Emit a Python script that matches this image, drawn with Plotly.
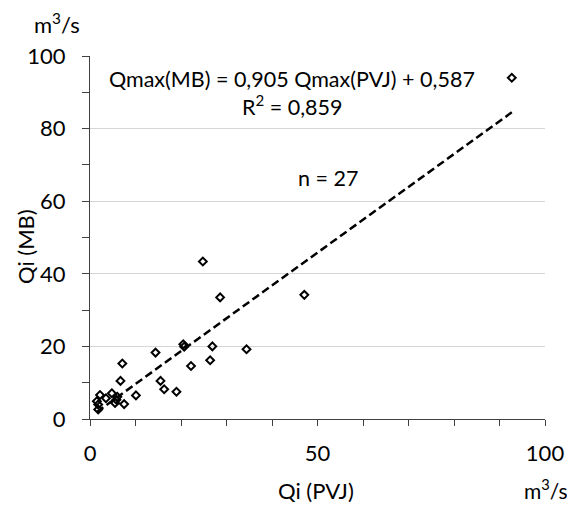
import plotly.graph_objects as go

# Data (m3/s)
qi_pvj = [92.7, 24.8, 28.6, 47.1, 20.5, 20.7, 26.9, 34.4, 22.2, 26.4, 14.4, 7.1, 6.7,
          15.5, 16.3, 19.0, 10.1, 7.5, 4.8, 6.0, 5.8, 5.5, 3.5, 2.2, 1.5, 1.8, 1.8]
qi_mb = [94.0, 43.4, 33.5, 34.2, 20.6, 19.9, 20.0, 19.2, 14.6, 16.2, 18.3, 15.3, 10.5,
         10.5, 8.2, 7.5, 6.5, 4.1, 7.1, 6.1, 5.3, 4.4, 5.7, 6.6, 4.9, 4.0, 2.6]

slope = 0.905
intercept = 0.587
r2_text = "0,859"
n_text = "27"

x_ticks = [0, 50, 100]
y_ticks = [0, 20, 40, 60, 80, 100]

FONT = "Lato"
FS = 22
FS_EQ = 21.5

x_line = [min(qi_pvj), max(qi_pvj)]
y_line = [slope * v + intercept for v in x_line]

fig = go.Figure()
fig.add_trace(go.Scatter(
    x=x_line, y=y_line, mode="lines",
    line=dict(color="black", width=2.5, dash="8px,4px"),
    hoverinfo="skip", showlegend=False))
fig.add_trace(go.Scatter(
    x=qi_pvj, y=qi_mb, mode="markers",
    marker=dict(symbol="diamond-open", size=6, color="black",
                line=dict(color="black", width=2)),
    showlegend=False))

# page body has an 8px margin, so the figure is 8px smaller than the window
fig.update_layout(
    width=567, height=498,
    margin=dict(l=82, r=30, t=48, b=87),
    paper_bgcolor="white", plot_bgcolor="white",
    font=dict(family=FONT, size=FS, color="black"),
    showlegend=False,
)
fig.update_xaxes(
    range=[0, 100], tickvals=x_ticks, ticktext=[str(v) for v in x_ticks],
    showgrid=False, zeroline=False,
    showline=True, linecolor="#404040", linewidth=1,
    ticks="outside", ticklen=6, tickcolor="#404040",
    minor=dict(dtick=10, ticks="outside", ticklen=6, tickcolor="#404040", showgrid=False),
    ticklabelstandoff=9,
    tickfont=dict(family=FONT, size=FS),
)
fig.update_yaxes(
    range=[0, 100], tickvals=y_ticks, ticktext=[str(v) for v in y_ticks],
    showgrid=True, gridcolor="#d6d6d6", gridwidth=1, zeroline=False,
    showline=True, linecolor="#404040", linewidth=1,
    ticks="outside", ticklen=7, tickcolor="#404040",
    minor=dict(dtick=10, ticks="outside", ticklen=7, tickcolor="#404040", showgrid=False),
    ticklabelstandoff=12,
    tickfont=dict(family=FONT, size=FS),
)

anns = [
    dict(text="Qmax(MB) = 0,905 Qmax(PVJ) + 0,587", x=292, y=79, s=FS_EQ),
    dict(text="R<sup>2</sup> = " + r2_text, x=292, y=106, s=FS_EQ),
    dict(text="n = " + n_text, x=328, y=178, s=FS_EQ),
    dict(text="Qi (PVJ)", x=316, y=490, s=FS),
    dict(text="m<sup>3</sup>/s", x=57, y=23, s=FS),
    dict(text="m<sup>3</sup>/s", x=546, y=489, s=21),
]
for a in anns:
    fig.add_annotation(
        text=a["text"], xref="paper", yref="paper",
        x=(a["x"] - 90) / 455, y=(419 - a["y"]) / 363,
        xanchor="center", yanchor="middle", showarrow=False,
        font=dict(family=FONT, size=a["s"], color="black"))
fig.add_annotation(
    text="Qi (MB)", xref="paper", yref="paper",
    x=(25 - 90) / 455, y=(419 - 247) / 363, textangle=-90,
    xanchor="center", yanchor="middle", showarrow=False,
    font=dict(family=FONT, size=FS, color="black"))

fig.write_html("out.html")
